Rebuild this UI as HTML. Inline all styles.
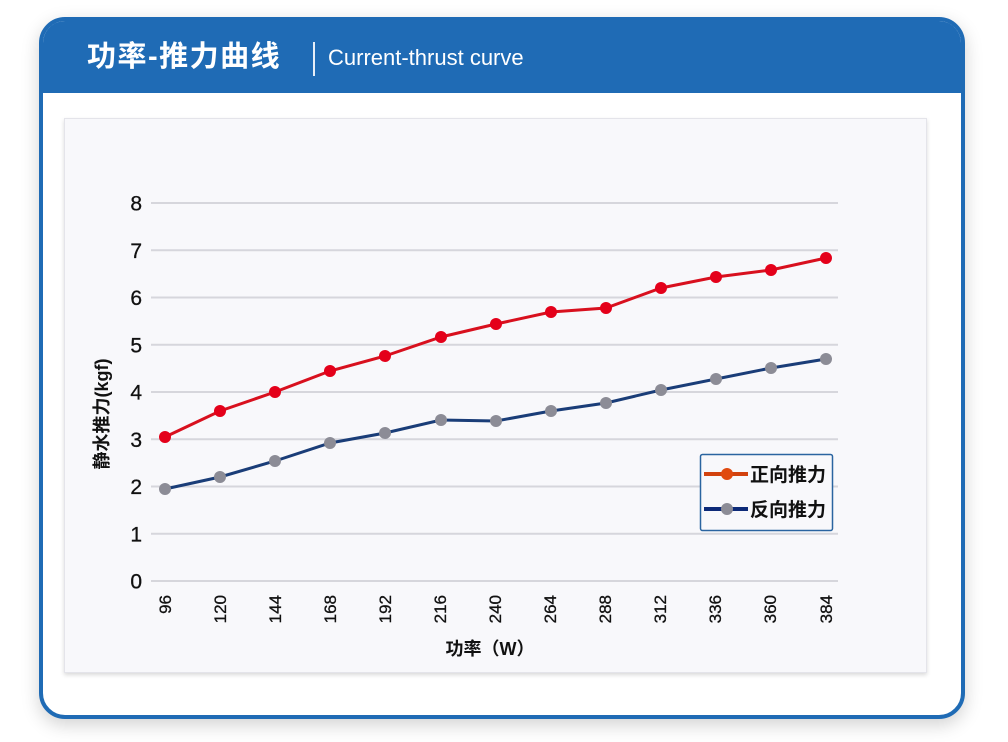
<!DOCTYPE html>
<html>
<head>
<meta charset="utf-8">
<style>
  html,body{margin:0;padding:0;background:#ffffff;}
  body{width:1008px;height:742px;overflow:hidden;position:relative;font-family:"Liberation Sans","Noto Sans CJK SC",sans-serif;}
  .card{position:absolute;left:39px;top:17px;width:926px;height:702px;box-sizing:border-box;border:4px solid #1f6bb5;border-radius:26px;background:#fff;box-shadow:0 6px 18px rgba(0,0,0,0.18);overflow:hidden;}
  .hdr{position:absolute;left:0;top:0;width:100%;height:72px;background:#1f6bb5;}
  .t1{position:absolute;left:44px;top:17px;color:#fff;font-size:29px;font-weight:bold;font-family:"Liberation Sans","Noto Sans CJK SC",sans-serif;line-height:38px;letter-spacing:1.5px;}
  .div{position:absolute;left:270px;top:21px;width:2px;height:34px;background:#e6eef8;}
  .t2{position:absolute;left:285px;top:24px;color:#fff;font-size:22px;line-height:26px;font-family:"Liberation Sans",sans-serif;}
  .panel{position:absolute;left:64px;top:118px;width:863px;height:555px;background:#f8f8fb;border:1px solid #e4e4ea;box-sizing:border-box;box-shadow:0 2px 4px rgba(0,0,0,0.15);}
  svg{position:absolute;left:0;top:0;}
</style>
</head>
<body>
<div class="card">
  <div class="hdr">
    <div class="t1">功率-推力曲线</div>
    <div class="div"></div>
    <div class="t2">Current-thrust curve</div>
  </div>
</div>
<div class="panel"></div>
<svg width="1008" height="742" viewBox="0 0 1008 742" xmlns="http://www.w3.org/2000/svg">
  <g stroke="#d6d6dc" stroke-width="2">
    <line x1="151" y1="203" x2="838" y2="203"/>
    <line x1="151" y1="250.25" x2="838" y2="250.25"/>
    <line x1="151" y1="297.5" x2="838" y2="297.5"/>
    <line x1="151" y1="344.75" x2="838" y2="344.75"/>
    <line x1="151" y1="392" x2="838" y2="392"/>
    <line x1="151" y1="439.25" x2="838" y2="439.25"/>
    <line x1="151" y1="486.5" x2="838" y2="486.5"/>
    <line x1="151" y1="533.75" x2="838" y2="533.75"/>
    <line x1="151" y1="581" x2="838" y2="581"/>
  </g>
  <g font-family="Liberation Sans, sans-serif" font-size="21" fill="#111" text-anchor="end" stroke="#111" stroke-width="0.3">
    <text x="142" y="210.5">8</text>
    <text x="142" y="257.75">7</text>
    <text x="142" y="305">6</text>
    <text x="142" y="352.25">5</text>
    <text x="142" y="399.5">4</text>
    <text x="142" y="446.75">3</text>
    <text x="142" y="494">2</text>
    <text x="142" y="541.25">1</text>
    <text x="142" y="588.5">0</text>
  </g>
  <g font-family="Liberation Sans, sans-serif" font-size="17" fill="#111" text-anchor="end" stroke="#111" stroke-width="0.3">
    <text transform="translate(171,595) rotate(-90)">96</text>
    <text transform="translate(226,595) rotate(-90)">120</text>
    <text transform="translate(281,595) rotate(-90)">144</text>
    <text transform="translate(336,595) rotate(-90)">168</text>
    <text transform="translate(391,595) rotate(-90)">192</text>
    <text transform="translate(446,595) rotate(-90)">216</text>
    <text transform="translate(501,595) rotate(-90)">240</text>
    <text transform="translate(556,595) rotate(-90)">264</text>
    <text transform="translate(611,595) rotate(-90)">288</text>
    <text transform="translate(666,595) rotate(-90)">312</text>
    <text transform="translate(721,595) rotate(-90)">336</text>
    <text transform="translate(776,595) rotate(-90)">360</text>
    <text transform="translate(832,595) rotate(-90)">384</text>
  </g>
  <text transform="translate(108,414) rotate(-90)" text-anchor="middle" font-family="Liberation Sans, Noto Sans CJK SC, sans-serif" font-size="18" font-weight="bold" fill="#111">静水推力(kgf)</text>
  <text x="490" y="655" text-anchor="middle" font-family="Liberation Sans, Noto Sans CJK SC, sans-serif" font-size="18" font-weight="bold" fill="#111">功率（W）</text>

  <!-- blue series -->
  <polyline fill="none" stroke="#1a3d78" stroke-width="3" points="165,489 220,477 275,461 330,443 385,433 441,420 496,421 551,411 606,403 661,390 716,379 771,368 826,359"/>
  <g fill="#8c8c96">
    <circle cx="165" cy="489" r="6"/><circle cx="220" cy="477" r="6"/><circle cx="275" cy="461" r="6"/>
    <circle cx="330" cy="443" r="6"/><circle cx="385" cy="433" r="6"/><circle cx="441" cy="420" r="6"/>
    <circle cx="496" cy="421" r="6"/><circle cx="551" cy="411" r="6"/><circle cx="606" cy="403" r="6"/>
    <circle cx="661" cy="390" r="6"/><circle cx="716" cy="379" r="6"/><circle cx="771" cy="368" r="6"/>
    <circle cx="826" cy="359" r="6"/>
  </g>
  <!-- red series -->
  <polyline fill="none" stroke="#d8101e" stroke-width="3" points="165,437 220,411 275,392 330,371 385,356 441,337 496,324 551,312 606,308 661,288 716,277 771,270 826,258"/>
  <g fill="#e4001a">
    <circle cx="165" cy="437" r="6"/><circle cx="220" cy="411" r="6"/><circle cx="275" cy="392" r="6"/>
    <circle cx="330" cy="371" r="6"/><circle cx="385" cy="356" r="6"/><circle cx="441" cy="337" r="6"/>
    <circle cx="496" cy="324" r="6"/><circle cx="551" cy="312" r="6"/><circle cx="606" cy="308" r="6"/>
    <circle cx="661" cy="288" r="6"/><circle cx="716" cy="277" r="6"/><circle cx="771" cy="270" r="6"/>
    <circle cx="826" cy="258" r="6"/>
  </g>

  <!-- legend -->
  <rect x="700.5" y="454.5" width="132" height="76" rx="2" fill="#f8f8fb" stroke="#2a64a0" stroke-width="1.5"/>
  <line x1="704" y1="474" x2="748" y2="474" stroke="#d2420e" stroke-width="4"/>
  <circle cx="727" cy="474" r="6" fill="#e04a10"/>
  <text x="750" y="481" font-family="Liberation Sans, Noto Sans CJK SC, sans-serif" font-size="19" font-weight="bold" fill="#111">正向推力</text>
  <line x1="704" y1="509" x2="748" y2="509" stroke="#0d2a78" stroke-width="4"/>
  <circle cx="727" cy="509" r="6" fill="#8c8c96"/>
  <text x="750" y="516" font-family="Liberation Sans, Noto Sans CJK SC, sans-serif" font-size="19" font-weight="bold" fill="#111">反向推力</text>
</svg>
</body>
</html>
